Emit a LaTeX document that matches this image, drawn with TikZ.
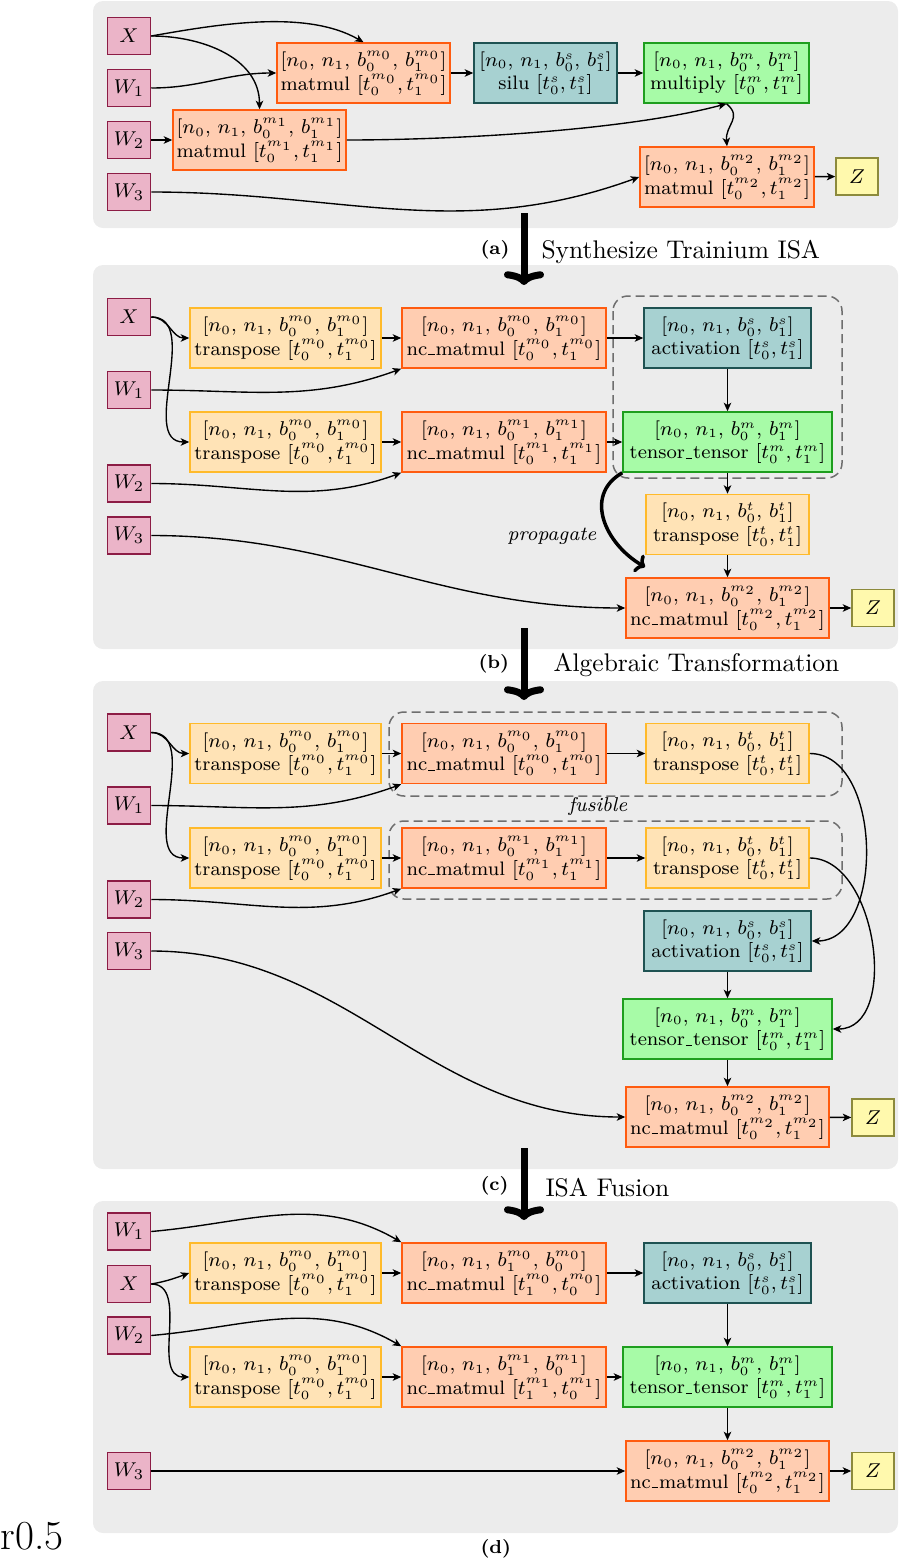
\documentclass[tikz,border=0pt]{standalone}
\usepackage{fontspec}
\usetikzlibrary{arrows.meta}
\definecolor{inpfill}{HTML}{EBB4C8}
\definecolor{inpdraw}{HTML}{8C1C45}
\definecolor{mmfill}{HTML}{FFCDB1}
\definecolor{mmdraw}{HTML}{FF5B0F}
\definecolor{actfill}{HTML}{A7D1D1}
\definecolor{actdraw}{HTML}{1E5252}
\definecolor{mulfill}{HTML}{A7FBA7}
\definecolor{muldraw}{HTML}{1E9E1E}
\definecolor{tpfill}{HTML}{FFE3B6}
\definecolor{tpdraw}{HTML}{FFBA2A}
\definecolor{zfill}{HTML}{FFF9AD}
\definecolor{zdraw}{HTML}{8C8A3C}
\definecolor{panelgray}{HTML}{ECECEC}
\definecolor{dashgray}{HTML}{6E6E6E}
\newcommand\US{\kern0.04em\rule[-0.1pt]{0.34em}{0.4pt}\kern0.04em}
\newcommand\TopLine[3]{[$n_0$, $n_1$, $b_{#1}^{#3}$, $b_{#2}^{#3}$]}
\newcommand\BotLine[4]{#1 $[t_{#2}^{#4}, t_{#3}^{#4}]$}
\newcommand\BoxFont{\fontsize{7.8}{9.4}\selectfont}
\begin{document}
\begin{tikzpicture}[x=0.4pt,y=-0.4pt,
  box/.style={draw, line width=0.6pt, minimum height=24pt, inner xsep=1pt, inner ysep=0pt, align=center, font=\BoxFont},
  bw/.style={minimum width=#1*0.4pt},
  inp/.style={box, fill=inpfill, draw=inpdraw, minimum width=17.2pt, minimum height=14.8pt, font=\fontsize{8.3}{10}\selectfont},
  mm/.style={box, fill=mmfill, draw=mmdraw},
  act/.style={box, fill=actfill, draw=actdraw},
  mul/.style={box, fill=mulfill, draw=muldraw},
  tp/.style={box, fill=tpfill, draw=tpdraw},
  zz/.style={box, fill=zfill, draw=zdraw, minimum width=16.8pt, minimum height=14.8pt, font=\fontsize{8.3}{10}\selectfont},
  conn/.style={-{Stealth[length=3.4pt,width=3pt,inset=0.9pt]}, line width=0.55pt},
  panel/.style={fill=panelgray, rounded corners=4pt},
  fuse/.style={draw=dashgray, dash pattern=on 3.6pt off 2pt, line width=0.6pt, rounded corners=6pt},
  bigarrow/.style={-{To[length=5.5pt,width=16pt]}, line width=2.8pt},
  proparrow/.style={-{To[length=3.5pt,width=8pt]}, line width=1.4pt},
  notetext/.style={font=\fontsize{8}{10}\selectfont\itshape},
  tagtext/.style={font=\fontsize{7.5}{9}\selectfont\bfseries, anchor=base west, inner sep=0pt},
  captext/.style={font=\fontsize{10.2}{12}\selectfont, anchor=base west, inner sep=0pt}
]
\useasboundingbox (0,0) rectangle (899,1560);

% panels
\path[panel] (93,1) rectangle (898,228);
\path[panel] (93,265) rectangle (898,649);
\path[panel] (93,681) rectangle (898,1169);
\path[panel] (93,1201) rectangle (898,1533);

% ---------------- panel (a)
\node[inp] (aX)  at (129,36)  {$X$};
\node[inp] (aW1) at (129,88)  {$W_1$};
\node[inp] (aW2) at (129,140) {$W_2$};
\node[inp] (aW3) at (129,192) {$W_3$};
\node[mm,bw=173] (am0) at (363.5,73) {\TopLine{0}{1}{m_0}\\\BotLine{matmul}{0}{1}{m_0}};
\node[act,bw=143] (asilu) at (545.5,73) {\TopLine{0}{1}{s}\\\BotLine{silu}{0}{1}{s}};
\node[mul,bw=165] (amul) at (726.5,73) {\TopLine{0}{1}{m}\\\BotLine{multiply}{0}{1}{m}};
\node[mm,bw=173] (am1) at (259.5,140) {\TopLine{0}{1}{m_1}\\\BotLine{matmul}{0}{1}{m_1}};
\node[mm,bw=174] (am2) at (727,177) {\TopLine{0}{1}{m_2}\\\BotLine{matmul}{0}{1}{m_2}};
\node[zz] (aZ) at (857,176.5) {$Z$};

\draw[conn] (aX.east) to[out=10,in=150,looseness=0.8] (am0.north);
\draw[conn] (aX.east) to[out=0,in=90] (am1.north);
\draw[conn] (aW1.east) to[out=0,in=180] (am0.west);
\draw[conn] (aW2.east) -- (am1.west);
\draw[conn] (am0) -- (asilu);
\draw[conn] (asilu) -- (amul);
\draw[conn] (am1.east) to[out=0,in=195,looseness=0.7] (amul.south);
\draw[conn] (amul.south) to[out=-40,in=95,looseness=1.3] (am2.north);
\draw[conn] (aW3.east) to[out=0,in=200] (am2.west);
\draw[conn] (am2) -- (aZ);

% transition a -> b
\coordinate (ta1) at (524,213);
\coordinate (ta2) at (524,285);
\draw[bigarrow] (ta1) -- (ta2);
\node[tagtext] (tga) at (480,254) {(a)};
\node[captext] (cpa) at (541,258) {Synthesize Trainium ISA};

% ---------------- panel (b)
\node[inp] (bX)  at (129,317)   {$X$};
\node[inp] (bW1) at (129,390)   {$W_1$};
\node[inp] (bW2) at (129,483.5) {$W_2$};
\node[inp] (bW3) at (129,535.5) {$W_3$};
\node[tp,bw=191] (btp1) at (285.5,338) {\TopLine{0}{1}{m_0}\\\BotLine{transpose}{0}{1}{m_0}};
\node[tp,bw=191] (btp2) at (285.5,442) {\TopLine{0}{1}{m_0}\\\BotLine{transpose}{0}{1}{m_0}};
\node[mm,bw=204] (bn0) at (504,338) {\TopLine{0}{1}{m_0}\\\BotLine{nc\US matmul}{0}{1}{m_0}};
\node[mm,bw=204] (bn1) at (504,442) {\TopLine{0}{1}{m_1}\\\BotLine{nc\US matmul}{0}{1}{m_1}};
\node[act,bw=167] (bact) at (727.5,338) {\TopLine{0}{1}{s}\\\BotLine{activation}{0}{1}{s}};
\node[mul,bw=209] (btt) at (727.5,442) {\TopLine{0}{1}{m}\\\BotLine{tensor\US tensor}{0}{1}{m}};
\node[tp,bw=163] (btt2) at (727.5,524.5) {\TopLine{0}{1}{t}\\\BotLine{transpose}{0}{1}{t}};
\node[mm,bw=203] (bn2) at (727.5,608) {\TopLine{0}{1}{m_2}\\\BotLine{nc\US matmul}{0}{1}{m_2}};
\node[zz] (bZ) at (873,608) {$Z$};
\draw[fuse] (613,296) rectangle (842,478);

\draw[conn] (bX.east) to[out=0,in=180] (btp1.west);
\draw[conn] (bX.east) to[out=0,in=180] (btp2.west);
\draw[conn] (bW1.east) to[out=0,in=200] (bn0.south west);
\draw[conn] (bW2.east) to[out=0,in=200] (bn1.south west);
\draw[conn] (btp1) -- (bn0);
\draw[conn] (btp2) -- (bn1);
\draw[conn] (bn0) -- (bact);
\draw[conn] (bn1) -- (btt);
\draw[conn] (bact) -- (btt);
\draw[conn] (btt) -- (btt2);
\draw[conn] (btt2) -- (bn2);
\draw[conn] (bW3.east) to[out=0,in=180] (bn2.west);
\draw[conn] (bn2) -- (bZ);
\coordinate (pend) at (645,567);
\draw[proparrow] (btt.south west) to[out=210,in=150,looseness=1.2] (pend);
\node[notetext, anchor=base] (prop) at (552,540) {propagate};

% transition b -> c
\coordinate (tb1) at (524,628);
\coordinate (tb2) at (524,700);
\draw[bigarrow] (tb1) -- (tb2);
\node[tagtext] (tgb) at (478,668) {(b)};
\node[captext] (cpb) at (553,671) {Algebraic Transformation};

% ---------------- panel (c)
\node[inp] (cX)  at (129,732.5) {$X$};
\node[inp] (cW1) at (129,805.5) {$W_1$};
\node[inp] (cW2) at (129,899.5) {$W_2$};
\node[inp] (cW3) at (129,951)   {$W_3$};
\node[tp,bw=191] (ctp1) at (285.5,753.5) {\TopLine{0}{1}{m_0}\\\BotLine{transpose}{0}{1}{m_0}};
\node[tp,bw=191] (ctp2) at (285.5,858) {\TopLine{0}{1}{m_0}\\\BotLine{transpose}{0}{1}{m_0}};
\node[mm,bw=204] (cn0) at (504,753.5) {\TopLine{0}{1}{m_0}\\\BotLine{nc\US matmul}{0}{1}{m_0}};
\node[mm,bw=204] (cn1) at (504,858) {\TopLine{0}{1}{m_1}\\\BotLine{nc\US matmul}{0}{1}{m_1}};
\node[tp,bw=163] (ct0) at (727.5,753.5) {\TopLine{0}{1}{t}\\\BotLine{transpose}{0}{1}{t}};
\node[tp,bw=163] (ct1) at (727.5,858) {\TopLine{0}{1}{t}\\\BotLine{transpose}{0}{1}{t}};
\node[act,bw=167] (cact) at (727.5,941) {\TopLine{0}{1}{s}\\\BotLine{activation}{0}{1}{s}};
\node[mul,bw=209] (ctt) at (727.5,1029) {\TopLine{0}{1}{m}\\\BotLine{tensor\US tensor}{0}{1}{m}};
\node[mm,bw=203] (cn2) at (727.5,1117) {\TopLine{0}{1}{m_2}\\\BotLine{nc\US matmul}{0}{1}{m_2}};
\node[zz] (cZ) at (873,1117.5) {$Z$};
\draw[fuse] (389,712) rectangle (842,796);
\draw[fuse] (389,821) rectangle (842,899);
\node[notetext, anchor=base] (fus) at (598,811) {fusible};

\draw[conn] (cX.east) to[out=0,in=180] (ctp1.west);
\draw[conn] (cX.east) to[out=0,in=180] (ctp2.west);
\draw[conn] (cW1.east) to[out=0,in=200] (cn0.south west);
\draw[conn] (cW2.east) to[out=0,in=200] (cn1.south west);
\draw[conn] (ctp1) -- (cn0);
\draw[conn] (ctp2) -- (cn1);
\draw[conn] (cn0) -- (ct0);
\draw[conn] (cn1) -- (ct1);
\draw[conn] (ct0.east) to[out=0,in=0] (cact.east);
\draw[conn] (ct1.east) to[out=0,in=0] (ctt.east);
\draw[conn] (cact) -- (ctt);
\draw[conn] (ctt) -- (cn2);
\draw[conn] (cW3.east) to[out=0,in=180] (cn2.west);
\draw[conn] (cn2) -- (cZ);

% transition c -> d
\coordinate (tc1) at (524,1148);
\coordinate (tc2) at (524,1220);
\draw[bigarrow] (tc1) -- (tc2);
\node[tagtext] (tgc) at (480,1190) {(c)};
\node[captext] (cpc) at (545,1196) {ISA Fusion};

% ---------------- panel (d)
\node[inp] (dW1) at (129,1231.5) {$W_1$};
\node[inp] (dX)  at (129,1284)   {$X$};
\node[inp] (dW2) at (129,1335.5) {$W_2$};
\node[inp] (dW3) at (129,1471)   {$W_3$};
\node[tp,bw=191] (dtp1) at (285.5,1273) {\TopLine{0}{1}{m_0}\\\BotLine{transpose}{0}{1}{m_0}};
\node[tp,bw=191] (dtp2) at (285.5,1377) {\TopLine{0}{1}{m_0}\\\BotLine{transpose}{0}{1}{m_0}};
\node[mm,bw=204] (dn0) at (504,1273) {\TopLine{1}{0}{m_0}\\\BotLine{nc\US matmul}{1}{0}{m_0}};
\node[mm,bw=204] (dn1) at (504,1377) {\TopLine{1}{0}{m_1}\\\BotLine{nc\US matmul}{1}{0}{m_1}};
\node[act,bw=167] (dact) at (727.5,1273) {\TopLine{0}{1}{s}\\\BotLine{activation}{0}{1}{s}};
\node[mul,bw=209] (dtt) at (727.5,1377) {\TopLine{0}{1}{m}\\\BotLine{tensor\US tensor}{0}{1}{m}};
\node[mm,bw=203] (dn2) at (727.5,1471) {\TopLine{0}{1}{m_2}\\\BotLine{nc\US matmul}{0}{1}{m_2}};
\node[zz] (dZ) at (873,1471) {$Z$};

\draw[conn] (dW1.east) to[out=5,in=150] (dn0.north west);
\draw[conn] (dX.east) to[out=10,in=200] (dtp1.west);
\draw[conn] (dX.east) to[out=0,in=180] (dtp2.west);
\draw[conn] (dW2.east) to[out=5,in=150] (dn1.north west);
\draw[conn] (dtp1) -- (dn0);
\draw[conn] (dtp2) -- (dn1);
\draw[conn] (dn0) -- (dact);
\draw[conn] (dn1) -- (dtt);
\draw[conn] (dact) -- (dtt);
\draw[conn] (dtt) -- (dn2);
\draw[conn] (dW3) -- (dn2);
\draw[conn] (dn2) -- (dZ);
\node[tagtext] (tgd) at (480,1553) {(d)};
\node[font=\fontsize{16.5}{20}\selectfont, anchor=base west, inner sep=0pt] (rr) at (0,1549) {r0.5};
\end{tikzpicture}
\end{document}
